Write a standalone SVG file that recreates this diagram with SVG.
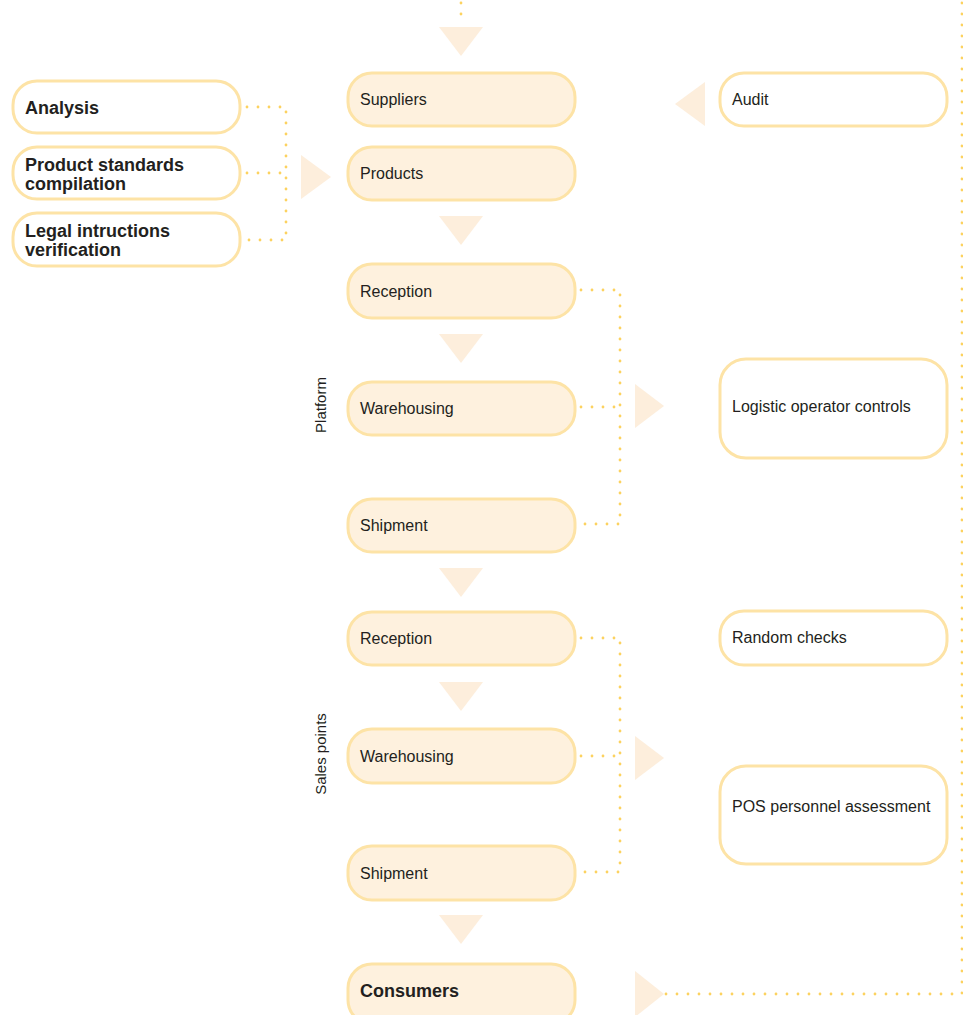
<svg xmlns="http://www.w3.org/2000/svg" width="963" height="1015" viewBox="0 0 963 1015">
  <style>
    .step { fill: #FEF1DE; stroke: #FDE3A6; stroke-width: 3; }
    .ctrl { fill: #FFFFFF; stroke: #FDE3A6; stroke-width: 3; }
    .tri { fill: #FDEEDC; }
    .dots { fill: none; stroke: #FCD25F; stroke-width: 2.8; stroke-linecap: round; stroke-dasharray: 0 11; }
    .lbl { font-family: "Liberation Sans", Arial, sans-serif; font-size: 16px; fill: #231F20; }
    .side { font-family: "Liberation Sans", Arial, sans-serif; font-size: 15px; fill: #231F20; }
    .bold { font-family: "Liberation Sans", Arial, sans-serif; font-size: 18px; font-weight: bold; fill: #231F20; }
  </style>

  <!-- dotted connectors -->
  <g id="connectors">
    <path class="dots" d="M461 3 L461 25"/>
    <path class="dots" d="M247 107 L286 107 L286 240 L247 240 M247 173 L286 173"/>
    <path class="dots" d="M581 290 L620 290 L620 524 L581 524 M581 407 L620 407"/>
    <path class="dots" d="M581 638 L620 638 L620 872 L581 872 M581 756 L620 756"/>
    <path class="dots" d="M666 994 L962 994 L962 0"/>
  </g>

  <!-- flow arrows -->
  <g id="arrows">
    <polygon class="tri" points="439,27 483,27 461,56"/>
    <polygon class="tri" points="439,216 483,216 461,245"/>
    <polygon class="tri" points="439,334 483,334 461,363"/>
    <polygon class="tri" points="439,568 483,568 461,597"/>
    <polygon class="tri" points="439,682 483,682 461,711"/>
    <polygon class="tri" points="439,915 483,915 461,944"/>
    <polygon class="tri" points="301,155 331,177 301,199"/>
    <polygon class="tri" points="705,82 675,104 705,126"/>
    <polygon class="tri" points="635,384 664,406 635,428"/>
    <polygon class="tri" points="635,736 664,758 635,780"/>
    <polygon class="tri" points="635,971 664,994 635,1017"/>
  </g>

  <!-- input checks -->
  <g id="analysis">
    <rect class="ctrl" x="13" y="81" width="227" height="52" rx="24"/>
    <text class="bold" x="25" y="114">Analysis</text>
  </g>
  <g id="standards">
    <rect class="ctrl" x="13" y="147" width="227" height="52" rx="24"/>
    <text class="bold" x="25" y="171">Product standards</text>
    <text class="bold" x="25" y="190">compilation</text>
  </g>
  <g id="legal">
    <rect class="ctrl" x="13" y="213" width="227" height="53" rx="24"/>
    <text class="bold" x="25" y="237">Legal intructions</text>
    <text class="bold" x="25" y="256">verification</text>
  </g>

  <!-- main chain -->
  <g id="suppliers">
    <rect class="step" x="348" y="73" width="227" height="53" rx="24"/>
    <text class="lbl" x="360" y="105">Suppliers</text>
  </g>
  <g id="products">
    <rect class="step" x="348" y="147" width="227" height="53" rx="24"/>
    <text class="lbl" x="360" y="179">Products</text>
  </g>
  <g id="platform-reception">
    <rect class="step" x="348" y="264" width="227" height="54" rx="24"/>
    <text class="lbl" x="360" y="297">Reception</text>
  </g>
  <g id="platform-warehousing">
    <rect class="step" x="348" y="382" width="227" height="53" rx="24"/>
    <text class="lbl" x="360" y="414">Warehousing</text>
  </g>
  <g id="platform-shipment">
    <rect class="step" x="348" y="499" width="227" height="53" rx="24"/>
    <text class="lbl" x="360" y="531">Shipment</text>
  </g>
  <g id="pos-reception">
    <rect class="step" x="348" y="612" width="227" height="53" rx="24"/>
    <text class="lbl" x="360" y="644">Reception</text>
  </g>
  <g id="pos-warehousing">
    <rect class="step" x="348" y="729" width="227" height="54" rx="24"/>
    <text class="lbl" x="360" y="762">Warehousing</text>
  </g>
  <g id="pos-shipment">
    <rect class="step" x="348" y="846" width="227" height="54" rx="24"/>
    <text class="lbl" x="360" y="879">Shipment</text>
  </g>
  <g id="consumers">
    <rect class="step" x="348" y="964" width="227" height="60" rx="24"/>
    <text class="bold" x="360" y="997">Consumers</text>
  </g>

  <!-- section labels -->
  <g id="section-labels">
    <text class="side" transform="translate(326,405) rotate(-90)" text-anchor="middle">Platform</text>
    <text class="side" transform="translate(326,754) rotate(-90)" text-anchor="middle">Sales points</text>
  </g>

  <!-- control boxes -->
  <g id="audit">
    <rect class="ctrl" x="720" y="73" width="227" height="53" rx="24"/>
    <text class="lbl" x="732" y="105">Audit</text>
  </g>
  <g id="logistic-controls">
    <rect class="ctrl" x="720" y="359" width="227" height="99" rx="26"/>
    <text class="lbl" x="732" y="412">Logistic operator controls</text>
  </g>
  <g id="random-checks">
    <rect class="ctrl" x="720" y="611" width="227" height="54" rx="24"/>
    <text class="lbl" x="732" y="643">Random checks</text>
  </g>
  <g id="pos-assessment">
    <rect class="ctrl" x="720" y="766" width="227" height="98" rx="26"/>
    <text class="lbl" x="732" y="812">POS personnel assessment</text>
  </g>
</svg>
